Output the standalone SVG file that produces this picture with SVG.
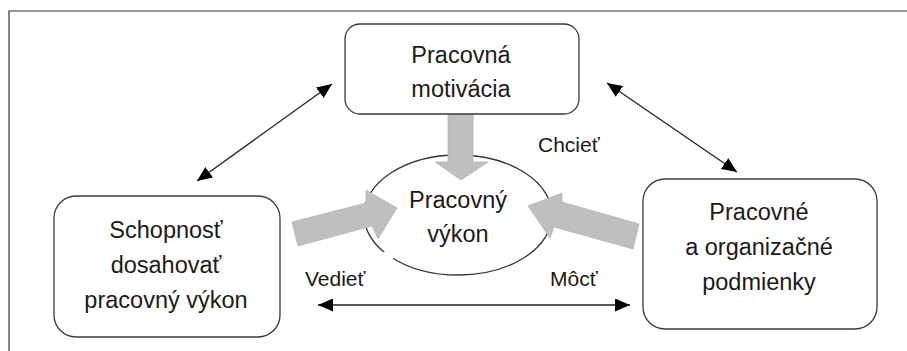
<svg xmlns="http://www.w3.org/2000/svg" width="907" height="351" viewBox="0 0 907 351">
<defs>
<style>
.box{fill:#fff;stroke:#3a3a3a;stroke-width:1.3}
.t{font-family:"Liberation Sans",Arial,sans-serif;font-size:23.5px;fill:#1a1a1a;text-anchor:middle}
.lbl{font-family:"Liberation Sans",Arial,sans-serif;font-size:21px;fill:#1a1a1a}
.conn{stroke:#222;stroke-width:1.3;fill:none}
.block{fill:#bfbfbf;stroke:#b5b5b5;stroke-width:0.8}
</style>
<marker id="ah" markerUnits="userSpaceOnUse" markerWidth="15" markerHeight="13" refX="15" refY="6.5" orient="auto-start-reverse">
<path d="M0,0 L15,6.5 L0,13 z" fill="#000"/>
</marker>
</defs>
<rect width="907" height="351" fill="#fff"/>
<path d="M9,351 V11 H907" fill="none" stroke="#333" stroke-width="1.2"/>

<g id="performance">
<ellipse cx="458" cy="215" rx="94" ry="60" fill="#fff" stroke="#333" stroke-width="1.3"/>
<rect x="296" y="252" width="97" height="42" fill="#fff"/>
<text class="t" x="458" y="208">Pracovný</text>
<text class="t" x="458" y="242">výkon</text>
</g>

<g id="connectors">
<polygon class="block" points="448,114 473,114 473,162 488,162 461,180 435,162 448,162"/>
<polygon class="block" points="292,222 366,203 366,190 397,208 378,239 372,226 298,246"/>
<polygon class="block" points="639,224 562,202 562,193 528,206 550,238 554,227 633,249"/>
<line class="conn" x1="332" y1="84" x2="197" y2="181" marker-start="url(#ah)" marker-end="url(#ah)"/>
<line class="conn" x1="607" y1="83" x2="737" y2="172" marker-start="url(#ah)" marker-end="url(#ah)"/>
<line class="conn" x1="318" y1="305" x2="630" y2="305" marker-start="url(#ah)" marker-end="url(#ah)"/>
<text class="lbl" x="538" y="152">Chcieť</text>
<text class="lbl" x="305" y="286">Vedieť</text>
<text class="lbl" x="550" y="286">Môcť</text>
</g>

<g id="motivation">
<rect class="box" x="345" y="24" width="234" height="90" rx="15"/>
<text class="t" x="461" y="63">Pracovná</text>
<text class="t" x="461" y="97">motivácia</text>
</g>

<g id="ability">
<rect class="box" x="54" y="196" width="226" height="141" rx="22"/>
<text class="t" x="166" y="238">Schopnosť</text>
<text class="t" x="166" y="273">dosahovať</text>
<text class="t" x="166" y="308">pracovný výkon</text>
</g>

<g id="conditions">
<rect class="box" x="643" y="179" width="234" height="150" rx="22"/>
<text class="t" x="759" y="220">Pracovné</text>
<text class="t" x="759" y="255">a organizačné</text>
<text class="t" x="759" y="290">podmienky</text>
</g>
</svg>
